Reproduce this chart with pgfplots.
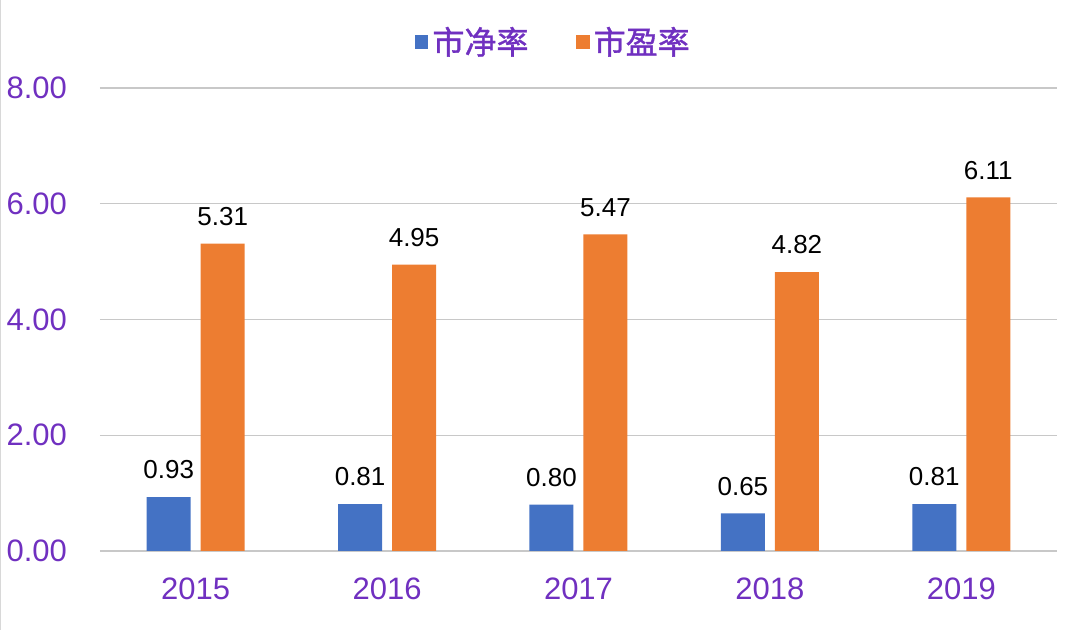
\documentclass[border=0pt]{standalone}
\usepackage{pgfplots}
\pgfplotsset{compat=1.18}
\usepackage{fontspec}
\setmainfont{Liberation Sans}
\newfontfamily\cjk{Noto Sans CJK SC}[FakeBold=1.2]
\definecolor{pblue}{HTML}{4472C4}
\definecolor{porange}{HTML}{ED7D31}
\definecolor{ppurple}{HTML}{7030C0}
\definecolor{pgrid}{HTML}{C8C8C8}
\begin{document}
\begin{tikzpicture}
\path[use as bounding box] (-50pt,-39.5pt) rectangle (496pt,275.5pt);
\draw[pgrid!70, line width=0.8pt] (-50pt,-39.5pt) -- (-50pt,275.5pt);
\begin{axis}[
  at={(0,0)}, anchor=south west,
  scale only axis, width=478.5pt, height=231.5pt,
  xmin=-0.5, xmax=4.5, ymin=0, ymax=8,
  axis line style={draw=none},
  ybar,
  xtick={0,1,2,3,4}, xticklabels={2015,2016,2017,2018,2019},
  ytick={0,2,4,6,8},
  ymajorgrids, grid style={pgrid, line width=0.6pt},
  major tick length=0pt,
  tick label style={text=ppurple, font=\fontsize{15.5}{15.5}\selectfont},
  yticklabel style={xshift=-13pt, /pgf/number format/.cd, fixed, fixed zerofill, precision=2, assume math mode=true},
  xticklabel style={yshift=-10pt},
  nodes near coords,
  nodes near coords style={font=\fontsize{13}{13}\selectfont, text=black, yshift=5.5pt,
    /pgf/number format/.cd, fixed, fixed zerofill, precision=2, assume math mode=true},
  legend style={at={(axis description cs:0.5,1)}, anchor=center, xshift=-12pt, yshift=23pt,
    draw=none, fill=none, legend columns=2,
    /tikz/every even column/.append style={column sep=22pt},
    font=\cjk\fontsize{16}{16}\selectfont, text=ppurple},
  legend image code/.code={\fill[#1] (0pt,-3.3pt) rectangle (6.6pt,3.3pt);},
  clip=false,
]
\addplot[fill=pblue, draw=none, bar width=22pt, bar shift=-13.5pt] coordinates {(0,0.93) (1,0.81) (2,0.80) (3,0.65) (4,0.81)};
\addlegendentry{市净率}
\addplot[fill=porange, draw=none, bar width=22pt, bar shift=13.5pt] coordinates {(0,5.31) (1,4.95) (2,5.47) (3,4.82) (4,6.11)};
\addlegendentry{市盈率}
\end{axis}
\end{tikzpicture}
\end{document}
